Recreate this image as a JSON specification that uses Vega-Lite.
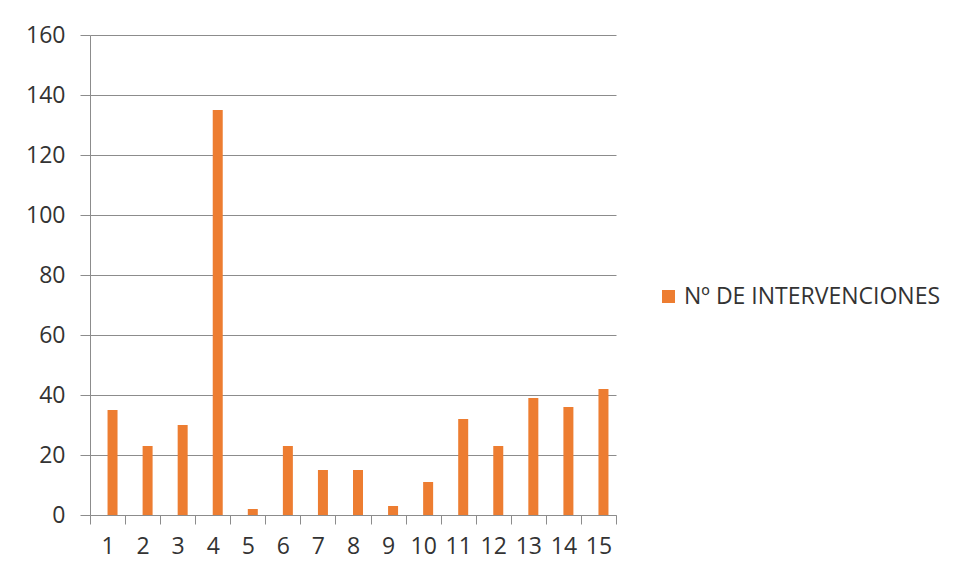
{
  "$schema": "https://vega.github.io/schema/vega-lite/v6.json",
  "autosize": {"type": "none"},
  "padding": {"left": 90, "top": 35, "right": 342, "bottom": 63},
  "width": 526,
  "height": 480,
  "background": "white",
  "config": {
    "font": "Open Sans",
    "view": {"stroke": null},
    "axis": {"labelFont": "Open Sans", "labelColor": "#333333", "domainColor": "#8c8c8c", "tickColor": "#8c8c8c", "gridColor": "#8c8c8c"}
  },
  "data": {
    "values": [
      {"n": "1", "v": 35, "s": "Nº DE INTERVENCIONES"},
      {"n": "2", "v": 23, "s": "Nº DE INTERVENCIONES"},
      {"n": "3", "v": 30, "s": "Nº DE INTERVENCIONES"},
      {"n": "4", "v": 135, "s": "Nº DE INTERVENCIONES"},
      {"n": "5", "v": 2, "s": "Nº DE INTERVENCIONES"},
      {"n": "6", "v": 23, "s": "Nº DE INTERVENCIONES"},
      {"n": "7", "v": 15, "s": "Nº DE INTERVENCIONES"},
      {"n": "8", "v": 15, "s": "Nº DE INTERVENCIONES"},
      {"n": "9", "v": 3, "s": "Nº DE INTERVENCIONES"},
      {"n": "10", "v": 11, "s": "Nº DE INTERVENCIONES"},
      {"n": "11", "v": 32, "s": "Nº DE INTERVENCIONES"},
      {"n": "12", "v": 23, "s": "Nº DE INTERVENCIONES"},
      {"n": "13", "v": 39, "s": "Nº DE INTERVENCIONES"},
      {"n": "14", "v": 36, "s": "Nº DE INTERVENCIONES"},
      {"n": "15", "v": 42, "s": "Nº DE INTERVENCIONES"}
    ]
  },
  "mark": {"type": "bar", "size": 10, "xOffset": 5},
  "encoding": {
    "x": {
      "field": "n", "type": "ordinal", "sort": null,
      "scale": {"paddingInner": 0, "paddingOuter": 0},
      "axis": {"title": null, "labelAngle": 0, "labelFontSize": 23, "tickBand": "extent", "tickSize": 9, "labelPadding": 11, "domainColor": "#8c8c8c"}
    },
    "y": {
      "field": "v", "type": "quantitative",
      "scale": {"domain": [0, 160]},
      "axis": {"title": null, "values": [0, 20, 40, 60, 80, 100, 120, 140, 160], "tickSize": 10, "labelPadding": 15, "labelFontSize": 23, "grid": true, "gridWidth": 1}
    },
    "color": {
      "field": "s", "type": "nominal",
      "scale": {"range": ["#ED7D31"]},
      "legend": {"title": null, "orient": "none", "legendX": 567, "legendY": 250, "symbolType": "square", "symbolSize": 170, "labelFontSize": 23, "labelFont": "Open Sans", "labelColor": "#333333", "labelLimit": 400, "symbolStrokeWidth": 0}
    }
  }
}
